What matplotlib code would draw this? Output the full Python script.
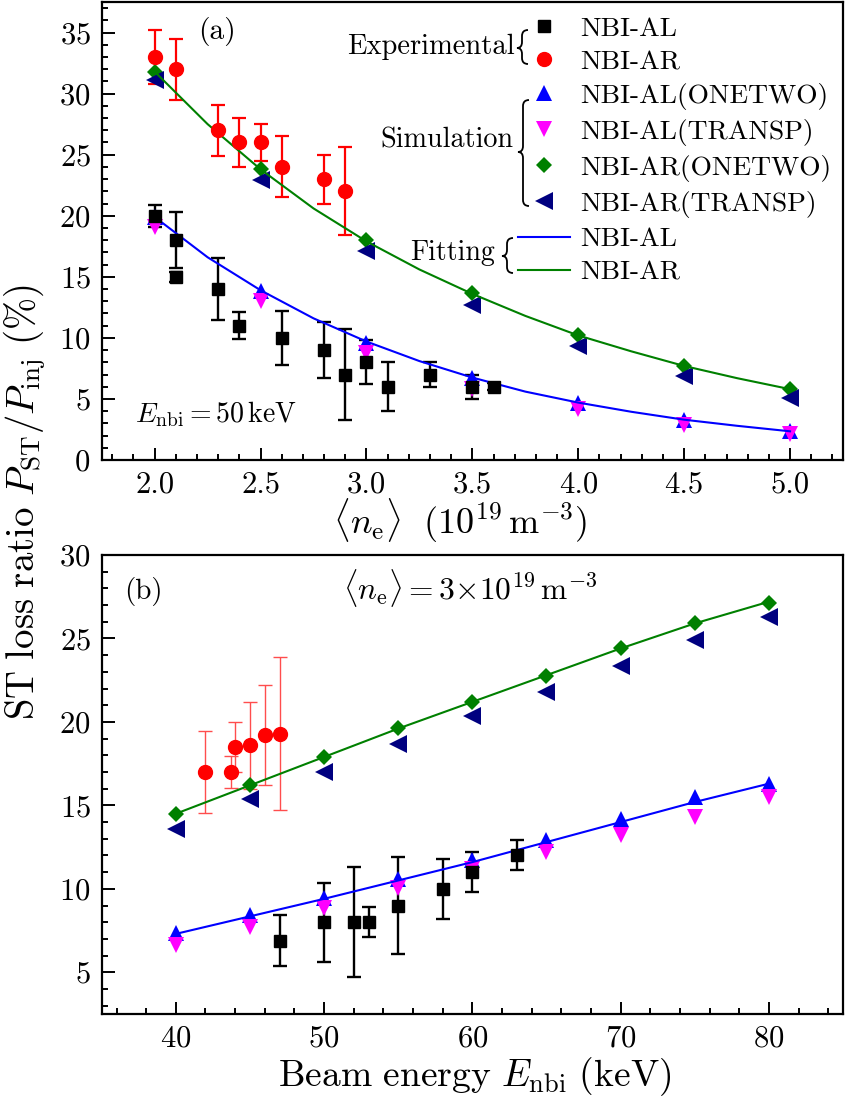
import numpy as np
import matplotlib
matplotlib.use('Agg')
import matplotlib.pyplot as plt
from matplotlib.lines import Line2D
from matplotlib.path import Path
from matplotlib.patches import PathPatch

plt.rcParams['font.family'] = 'serif'
plt.rcParams['font.serif'] = ['cmr10']
plt.rcParams['mathtext.fontset'] = 'cm'
plt.rcParams['axes.unicode_minus'] = False
plt.rcParams['axes.formatter.use_mathtext'] = True

W, H = 846, 1105

# ---- panel (a): density scan at E_nbi = 50 keV ----
ne_exp_al = [2.0, 2.1, 2.1, 2.3, 2.4, 2.6, 2.8, 2.9, 3.0, 3.1, 3.3, 3.5, 3.6]
st_exp_al = [20.0, 18.0, 15.0, 14.0, 11.0, 10.0, 9.0, 7.0, 8.0, 6.0, 7.0, 6.0, 6.0]
err_exp_al = [0.9, 2.3, 0.4, 2.5, 1.1, 2.2, 2.3, 3.7, 1.8, 2.0, 1.0, 1.0, 0.3]

ne_exp_ar = [2.0, 2.1, 2.3, 2.4, 2.5, 2.6, 2.8, 2.9]
st_exp_ar = [33.0, 32.0, 27.0, 26.0, 26.0, 24.0, 23.0, 22.0]
err_exp_ar = [2.2, 2.5, 2.1, 2.0, 1.5, 2.5, 2.0, 3.6]

ne_sim = [2.0, 2.5, 3.0, 3.5, 4.0, 4.5, 5.0]
al_onetwo_a = [19.9, 13.8, 9.6, 6.7, 4.7, 3.3, 2.4]
al_transp_a = [19.1, 13.0, 8.8, 5.8, 4.2, 2.9, 2.1]
ar_onetwo_a = [31.8, 23.8, 18.0, 13.7, 10.2, 7.7, 5.8]
ar_transp_a = [31.1, 22.9, 17.1, 12.7, 9.3, 6.9, 5.1]

ne_fit = [2.0, 2.25, 2.5, 2.75, 3.0, 3.25, 3.5, 3.75, 4.0, 4.25, 4.5, 4.75, 5.0]
fit_al_a = [19.9, 16.6, 13.9, 11.6, 9.7, 8.1, 6.75, 5.6, 4.7, 3.95, 3.3, 2.8, 2.35]
fit_ar_a = [31.8, 27.5, 23.8, 20.6, 17.9, 15.6, 13.6, 11.8, 10.2, 8.9, 7.7, 6.7, 5.8]

# ---- panel (b): beam energy scan at <n_e> = 3e19 ----
e_exp_al = [47, 50, 52, 53, 55, 58, 60, 63]
st_exp_al_b = [6.9, 8.0, 8.0, 8.0, 9.0, 10.0, 11.0, 12.0]
err_exp_al_b = [1.55, 2.37, 3.3, 0.9, 2.9, 1.8, 1.2, 0.9]

e_exp_ar = [42.0, 43.7, 44.0, 45.0, 46.0, 47.0]
st_exp_ar_b = [17.0, 17.0, 18.5, 18.6, 19.2, 19.3]
err_exp_ar_b = [2.45, 0.95, 1.5, 2.6, 3.0, 4.6]

e_sim = [40, 45, 50, 55, 60, 65, 70, 75, 80]
al_onetwo_b = [7.35, 8.44, 9.44, 10.58, 11.7, 12.9, 14.2, 15.5, 16.3]
al_transp_b = [6.65, 7.74, 8.84, 10.04, 11.18, 12.23, 13.23, 14.29, 15.53]
ar_onetwo_b = [14.47, 16.23, 17.9, 19.66, 21.2, 22.77, 24.41, 25.9, 27.14]
ar_transp_b = [13.57, 15.37, 17.02, 18.68, 20.36, 21.8, 23.35, 24.9, 26.3]

fit_al_b = [7.3, 8.35, 9.4, 10.5, 11.6, 12.8, 14.0, 15.2, 16.3]
fit_ar_b = [14.5, 16.2, 17.9, 19.6, 21.2, 22.8, 24.4, 25.9, 27.2]

legend_labels = ['NBI-AL', 'NBI-AR', 'NBI-AL(ONETWO)', 'NBI-AL(TRANSP)',
                 'NBI-AR(ONETWO)', 'NBI-AR(TRANSP)', 'NBI-AL', 'NBI-AR']

c_al_1, c_al_2 = '#0000ff', '#ff00ff'
c_ar_1, c_ar_2 = '#008000', '#000080'

fig = plt.figure(figsize=(W / 100, H / 100), dpi=100)
renderer = fig.canvas.get_renderer()


def fx(px):
    return px / W


def fy(py):
    return 1 - py / H


def size_for(s, target_w):
    # font size that makes string s about target_w pixels wide
    t = fig.text(0, 0, s, fontsize=20)
    w = t.get_window_extent(renderer).width
    t.remove()
    return 20 * target_w / w


def put(s, x, y, target, **kw):
    # place text at pixel (x, y), scaled to target px length
    kw.setdefault('ha', 'center')
    kw.setdefault('va', 'center')
    rot = kw.pop('rotation', 0)
    t = fig.text(fx(x), fy(y), s, fontsize=size_for(s, target), **kw)
    t.set_rotation(rot)
    return t


ax1 = fig.add_axes([fx(101.7), fy(460), fx(843) - fx(101.7), fy(2) - fy(460)])
ax2 = fig.add_axes([fx(101.7), fy(1014), fx(843) - fx(101.7), fy(555) - fy(1014)])


def draw_sim(ax, x, a1, a2, r1, r2, fa, fr, xf):
    ax.plot(x, a1, '^', color=c_al_1, ms=12, mew=0)
    ax.plot(x, a2, 'v', color=c_al_2, ms=12, mew=0)
    ax.plot(x, r1, 'D', color=c_ar_1, ms=8.6, mew=0)
    ax.plot(x, r2, '<', color=c_ar_2, ms=12.5, mew=0)
    ax.plot(xf, fa, '-', color=c_al_1, lw=1.5)
    ax.plot(xf, fr, '-', color=c_ar_1, lw=1.5)


# panel (a)
ax1.errorbar(ne_exp_al, st_exp_al, yerr=err_exp_al, fmt='s', color='k', ms=9,
             capsize=4.7, elinewidth=1.7, capthick=1.7)
ax1.errorbar(ne_exp_ar, st_exp_ar, yerr=err_exp_ar, fmt='o', color='#ff0000', ms=10,
             capsize=5, elinewidth=1.6, capthick=1.6)
draw_sim(ax1, ne_sim, al_onetwo_a, al_transp_a, ar_onetwo_a, ar_transp_a,
         fit_al_a, fit_ar_a, ne_fit)
ax1.set_xlim(1.75, 5.25)
ax1.set_ylim(0, 37.5)
ax1.set_xticks([2.0, 2.5, 3.0, 3.5, 4.0, 4.5, 5.0])
ax1.set_xticklabels(['2.0', '2.5', '3.0', '3.5', '4.0', '4.5', '5.0'])
ax1.set_xticks(np.arange(1.8, 5.25, 0.1), minor=True)
ax1.set_yticks(range(0, 36, 5))
ax1.set_yticks(range(0, 38), minor=True)

# panel (b)
ax2.errorbar(e_exp_al, st_exp_al_b, yerr=err_exp_al_b, fmt='s', color='k', ms=9,
             capsize=4.7, elinewidth=1.7, capthick=1.7)
ax2.errorbar(e_exp_ar, st_exp_ar_b, yerr=err_exp_ar_b, fmt='o', color='#ff0000', ms=10,
             capsize=5, elinewidth=1.0, capthick=1.0, ecolor=(1, 0.3, 0.3))
draw_sim(ax2, e_sim, al_onetwo_b, al_transp_b, ar_onetwo_b, ar_transp_b,
         fit_al_b, fit_ar_b, e_sim)
ax2.set_xlim(35, 85)
ax2.set_ylim(2.5, 30)
ax2.set_xticks([40, 50, 60, 70, 80])
ax2.set_xticks(range(36, 85, 2), minor=True)
ax2.set_yticks([5, 10, 15, 20, 25, 30])
ax2.set_yticks(range(3, 31), minor=True)

tick_fs = size_for('5.0', 39)
for ax in (ax1, ax2):
    for s in ax.spines.values():
        s.set_linewidth(1.6)
    ax.tick_params(which='both', direction='in', top=False, right=False,
                   labelsize=tick_fs, width=1.4, pad=8)
    ax.tick_params(which='major', length=9)
    ax.tick_params(which='minor', length=4)

# legend in panel (a)
handles = [
    Line2D([], [], ls='none', marker='s', color='k', ms=9),
    Line2D([], [], ls='none', marker='o', color='#ff0000', ms=10),
    Line2D([], [], ls='none', marker='^', color=c_al_1, ms=12, mew=0),
    Line2D([], [], ls='none', marker='v', color=c_al_2, ms=12, mew=0),
    Line2D([], [], ls='none', marker='D', color=c_ar_1, ms=8.6, mew=0),
    Line2D([], [], ls='none', marker='<', color=c_ar_2, ms=12.5, mew=0),
    Line2D([], [], color=c_al_1, lw=1.5),
    Line2D([], [], color=c_ar_1, lw=1.5),
]
leg_fs = size_for('NBI-AL(ONETWO)', 249)
em = leg_fs * 100 / 72
row_gap = 34.8   # px between legend rows in the reference
first_row = 29   # px from top of figure


def make_legend(spacing, top):
    return fig.legend(handles, legend_labels, loc='upper left',
                      bbox_to_anchor=(fx(518), fy(top)), frameon=False, fontsize=leg_fs,
                      handlelength=52 / em, handletextpad=10 / em, borderpad=0,
                      borderaxespad=0, labelspacing=spacing)


def row_centres(leg):
    fig.canvas.draw()
    ys = [t.get_window_extent(renderer) for t in leg.get_texts()]
    return [(b.y0 + b.y1) / 2 for b in ys]


spacing = 0.2
leg = make_legend(spacing, 0)
c = row_centres(leg)
step = (c[0] - c[-1]) / 7
leg.remove()
spacing += (row_gap - step) / em
leg = make_legend(spacing, 0)
c = row_centres(leg)
shift = (H - first_row) - c[0]
leg.remove()
leg = make_legend(spacing, -shift)


def brace(xl, xm, xr, ya, ymid, yb, lw=1.3):
    r = xr - xm
    pts = [(xr, ya), (xm, ya), (xm, ya + r), (xm, ymid - r), (xm, ymid), (xl, ymid),
           (xm, ymid), (xm, ymid + r), (xm, yb - r), (xm, yb), (xr, yb)]
    codes = [Path.MOVETO, Path.CURVE3, Path.CURVE3, Path.LINETO, Path.CURVE3, Path.CURVE3,
             Path.CURVE3, Path.CURVE3, Path.LINETO, Path.CURVE3, Path.CURVE3]
    verts = [(fx(x), fy(y)) for x, y in pts]
    fig.add_artist(PathPatch(Path(verts, codes), fill=False, lw=lw, color='k',
                             transform=fig.transFigure))


put('Experimental', 515, 47, 168, ha='right')
brace(517, 522, 528, 30, 48, 64)
put('Simulation', 513, 140, 133, ha='right')
brace(518, 523, 529, 100, 152, 206)
put('Fitting', 495, 253, 85, ha='right')
brace(502, 507, 513, 238, 256, 273)

put('(a)', 217, 32, 38)
put(r'$E_{\mathrm{nbi}}=50\,\mathrm{keV}$', 216, 414, 162)
put('(b)', 143, 592, 39)
put(r'$\langle n_{\mathrm{e}}\rangle=3{\times}10^{19}\,\mathrm{m}^{-3}$', 470, 588, 255)

put(r'$\langle n_{\mathrm{e}}\rangle\ \ (10^{19}\,\mathrm{m}^{-3})$', 460, 521, 255)
put(r'$\mathrm{Beam\ energy}\ E_{\mathrm{nbi}}\ (\mathrm{keV})$', 475, 1077, 394)
put(r'$\mathrm{ST\ loss\ ratio}\ P_{\mathrm{ST}}/P_{\mathrm{inj}}\ (\%)$', 25, 502, 437,
    rotation=90)

fig.savefig('out.png', dpi=100)
